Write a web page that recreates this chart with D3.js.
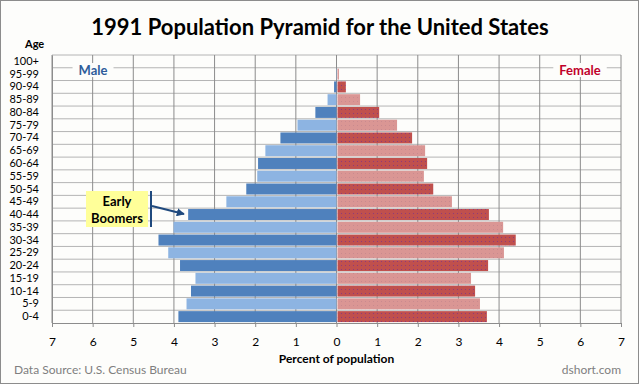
<!DOCTYPE html>
<html>
<head>
<style>
  body { margin: 0; background: #fff; }
  text { font-family: Lato, "Open Sans", sans-serif; }
</style>
</head>
<body>

<script src="https://d3js.org/d3.v7.min.js"></script>

<script>

const width = 640;
const height = 385;

// age groups, bottom to top
const ages = ['0-4', '5-9', '10-14', '15-19', '20-24', '25-29', '30-34', '35-39',
              '40-44', '45-49', '50-54', '55-59', '60-64', '65-69', '70-74',
              '75-79', '80-84', '85-89', '90-94', '95-99', '100+'];

// percent of population
const male = [3.89, 3.69, 3.58, 3.47, 3.85, 4.14, 4.38, 4.01, 3.65, 2.71, 2.22,
              1.95, 1.93, 1.75, 1.38, 0.96, 0.52, 0.22, 0.06, 0.01, 0.0];
const female = [3.70, 3.53, 3.41, 3.31, 3.73, 4.12, 4.41, 4.10, 3.75, 2.84, 2.38,
                2.15, 2.23, 2.18, 1.86, 1.49, 1.05, 0.58, 0.23, 0.06, 0.01];

const xTicks = [-7, -6, -5, -4, -3, -2, -1, 0, 1, 2, 3, 4, 5, 6, 7];

const svg = d3.select('body')
              .append('svg')
              .attr('width', width)
              .attr('height', height);

const defs = svg.append('defs');
const dots = (id, bg, dot) => {
  const p = defs.append('pattern')
    .attr('id', id).attr('width', 4).attr('height', 4)
    .attr('patternUnits', 'userSpaceOnUse');
  p.append('rect').attr('width', 4).attr('height', 4).attr('fill', bg);
  p.append('rect').attr('x', 1).attr('y', 1).attr('width', 1).attr('height', 1).attr('fill', dot);
};
dots('fDark', '#c0504d', '#8e3a7a');
dots('fLight', '#da9694', '#c98a8f');

// frame
svg.append('rect')
  .attr('x', 0.5).attr('y', 0.5)
  .attr('width', width - 2).attr('height', height - 2)
  .attr('fill', '#fdfdfb')
  .attr('stroke', '#8c8c8c');

const x = d3.scaleLinear().domain([-7, 7]).range([52, 621]);
const y = d3.scaleBand().domain(ages).range([323, 55]).paddingInner(0.14).paddingOuter(0.07);
const rowY = d3.scaleBand().domain(ages).range([323, 55]);

// grid
const grid = svg.append('g');
grid.selectAll('line.h')
  .data(ages)
  .enter()
  .append('line')
    .attr('x1', x(-7)).attr('x2', x(7))
    .attr('y1', d => rowY(d)).attr('y2', d => rowY(d))
    .attr('stroke', '#b4b4b4');
grid.selectAll('line.v')
  .data(xTicks)
  .enter()
  .append('line')
    .attr('x1', d => x(d)).attr('x2', d => x(d))
    .attr('y1', 55).attr('y2', 323)
    .attr('stroke', '#8c8c8c');

// labels with white box
const seriesLabel = (tx, text, color) => {
  const t = svg.append('text')
    .attr('x', tx).attr('y', 75)
    .attr('text-anchor', 'middle')
    .attr('font-size', 13).attr('font-weight', 'bold')
    .attr('fill', color)
    .text(text);
  const b = t.node().getBBox();
  svg.insert('rect', () => t.node())
    .attr('x', b.x - 6).attr('y', b.y + 1)
    .attr('width', b.width + 12).attr('height', b.height - 2)
    .attr('fill', '#fdfdfb');
};
seriesLabel(93, 'Male', '#2e5c9a');
seriesLabel(580, 'Female', '#c0002a');

// bars
svg.append('g').selectAll('rect')
  .data(ages)
  .enter()
  .append('rect')
    .attr('x', (d, i) => x(-male[i]))
    .attr('y', d => y(d))
    .attr('width', (d, i) => x(0) - x(-male[i]))
    .attr('height', y.bandwidth())
    .attr('fill', (d, i) => i % 2 ? '#8db4e2' : '#4f81bd');

svg.append('g').selectAll('rect')
  .data(ages)
  .enter()
  .append('rect')
    .attr('x', x(0) + 1)
    .attr('y', d => y(d))
    .attr('width', (d, i) => Math.max(0, x(female[i]) - x(0) - 1))
    .attr('height', y.bandwidth())
    .attr('fill', (d, i) => i % 2 ? 'url(#fLight)' : 'url(#fDark)');

// axes
const xAxis = svg.append('g')
  .attr('transform', 'translate(0,323)')
  .call(d3.axisBottom(x).tickValues(xTicks).tickSize(4).tickPadding(10)
          .tickFormat(d => Math.abs(d)));
xAxis.select('.domain').attr('stroke', '#8c8c8c');
xAxis.selectAll('line').attr('stroke', '#8c8c8c');
xAxis.selectAll('text').attr('font-size', 12).attr('fill', '#000')
  .style('font-family', 'Lato, sans-serif');

const yAxis = svg.append('g')
  .attr('transform', 'translate(52,0)')
  .call(d3.axisLeft(rowY).tickSize(0).tickPadding(13));
yAxis.select('.domain').attr('stroke', '#8c8c8c');
yAxis.selectAll('text').attr('font-size', 11).attr('fill', '#000')
  .attr('dy', '0.32em')
  .style('font-family', 'Lato, sans-serif');

// titles
svg.append('text')
  .attr('x', 320).attr('y', 35)
  .attr('text-anchor', 'middle')
  .attr('font-size', 22).attr('font-weight', 'bold')
  .text('1991 Population Pyramid for the United States');

svg.append('text')
  .attr('x', 25).attr('y', 48)
  .attr('font-size', 11).attr('font-weight', 'bold')
  .text('Age');

svg.append('text')
  .attr('x', x(0)).attr('y', 363)
  .attr('text-anchor', 'middle')
  .attr('font-size', 12).attr('font-weight', 'bold')
  .text('Percent of population');

svg.append('text')
  .attr('x', 14).attr('y', 374)
  .attr('font-size', 12).attr('fill', '#7f7f7f')
  .text('Data Source: U.S. Census Bureau');

svg.append('text')
  .attr('x', 621).attr('y', 374)
  .attr('text-anchor', 'end')
  .attr('font-size', 12).attr('fill', '#7f7f7f')
  .text('dshort.com');

// annotation
const note = svg.append('g');
note.append('rect')
  .attr('x', 86).attr('y', 191)
  .attr('width', 62).attr('height', 36)
  .attr('fill', '#ffff99');
note.append('text')
  .attr('x', 117).attr('y', 206)
  .attr('text-anchor', 'middle')
  .attr('font-size', 13).attr('font-weight', 'bold')
  .text('Early');
note.append('text')
  .attr('x', 117).attr('y', 223)
  .attr('text-anchor', 'middle')
  .attr('font-size', 13).attr('font-weight', 'bold')
  .text('Boomers');
note.append('line')
  .attr('x1', 151).attr('x2', 151)
  .attr('y1', 191).attr('y2', 227)
  .attr('stroke', '#1f497d').attr('stroke-width', 2);

defs.append('marker')
  .attr('id', 'arrow').attr('viewBox', '0 0 10 10')
  .attr('refX', 9).attr('refY', 5)
  .attr('markerWidth', 4).attr('markerHeight', 4)
  .attr('orient', 'auto')
  .append('path').attr('d', 'M0,0L10,5L0,10Z').attr('fill', '#1f497d');

note.append('line')
  .attr('x1', 152).attr('y1', 206)
  .attr('x2', 184).attr('y2', 214)
  .attr('stroke', '#1f497d').attr('stroke-width', 2)
  .attr('marker-end', 'url(#arrow)');

</script>
</body>
</html>
